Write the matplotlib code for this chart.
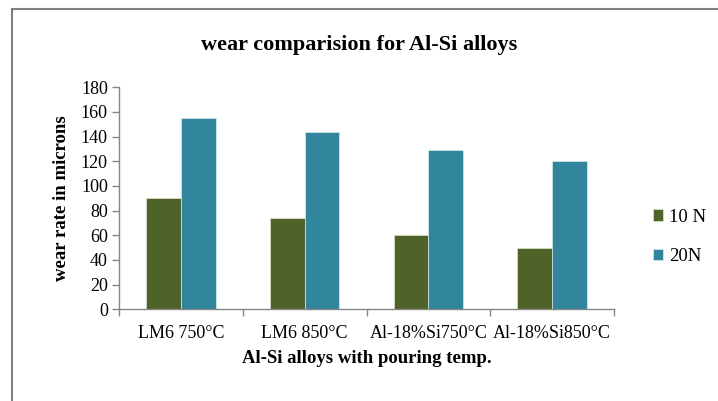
import numpy as np
import matplotlib
matplotlib.use("Agg")
import matplotlib.pyplot as plt
from matplotlib.patches import Rectangle

categories = ["LM6 750°C", "LM6 850°C", "Al-18%Si750°C", "Al-18%Si850°C"]
load_10n = [90, 74, 60, 50]
load_20n = [155, 144, 129, 120]
series_names = ["10 N", "20N"]

plt.rcParams['font.family'] = ['Liberation Serif', 'DejaVu Serif']

fig = plt.figure(figsize=(7.18, 4.01), dpi=100, facecolor='w')
ax = fig.add_axes([119/718, 1-309.3/401, (614-119)/718, (309.3-87.3)/401])

x = np.arange(len(categories))
w = 0.28
ax.bar(x - w/2, load_10n, w, color='#4F6228', edgecolor='#dfe6d0', lw=0.5, label=series_names[0])
ax.bar(x + w/2, load_20n, w, color='#31859C', edgecolor='#d5ecf2', lw=0.5, label=series_names[1])

ax.set_xlim(-0.5, len(categories) - 0.5)
ax.set_ylim(0, 180)
ax.set_yticks(range(0, 181, 20))
ax.set_xticks(x)
ax.set_xticklabels(categories)
ax.set_xticks(np.arange(-0.5, len(categories)), minor=True)
ax.tick_params(axis='x', which='major', length=0, pad=11, labelsize=13)
ax.tick_params(axis='x', which='minor', length=5, color='#868686', width=1)
ax.tick_params(axis='y', length=5, color='#868686', width=1, labelsize=13, pad=3)

for spine in ('top', 'right'):
    ax.spines[spine].set_visible(False)
for spine in ('left', 'bottom'):
    ax.spines[spine].set_color('#868686')
    ax.spines[spine].set_linewidth(1)

ax.set_xlabel("Al-Si alloys with pouring temp.", fontsize=13.5, fontweight='bold', labelpad=6)
ax.set_ylabel("wear rate in microns", fontsize=13.5, fontweight='bold', labelpad=8)
fig.text(0.5, 1-45/401, "wear comparision for Al-Si alloys", fontsize=16, fontweight='bold',
         ha='center', va='center')

fig.legend(loc='center left', bbox_to_anchor=(653/718, 1-237/401), frameon=False,
           handlelength=0.55, handleheight=0.55, handletextpad=0.3, labelspacing=1.2,
           fontsize=13.5, borderaxespad=0, borderpad=0)

fig.patches.append(Rectangle((12/718, -0.1), 1.2, 1.1 - 9/401, transform=fig.transFigure,
                             fill=False, edgecolor='#808080', lw=1.5))

fig.savefig("out.png", dpi=100)
